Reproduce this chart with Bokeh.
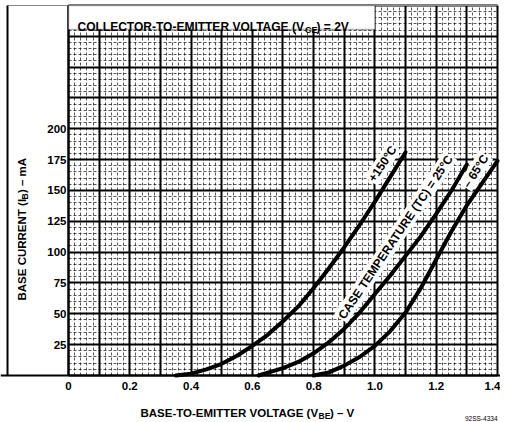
import math
import numpy as np
from bokeh.plotting import figure
from bokeh.models import Range1d, FixedTicker, BoxAnnotation, Label, LinearAxis
from bokeh.embed import file_html
from bokeh.resources import INLINE

# ---------------- data ----------------
vbe_150 = [0.35, 0.40, 0.45, 0.50, 0.55, 0.60, 0.65, 0.70, 0.75, 0.80, 0.85, 0.90, 0.95, 1.00, 1.05, 1.10]
ib_150 = [0, 1.5, 5, 9.5, 16, 24, 33, 44, 56, 71, 87, 104, 122, 141, 161, 181]

vbe_25 = [0.62, 0.70, 0.75, 0.80, 0.85, 0.90, 0.95, 1.00, 1.05, 1.10, 1.15, 1.20, 1.25, 1.30]
ib_25 = [0, 6, 11, 18, 27, 38, 51, 66, 81, 97, 113, 131, 150, 171]

vbe_m65 = [0.80, 0.85, 0.90, 0.95, 1.00, 1.05, 1.10, 1.15, 1.20, 1.25, 1.30, 1.35, 1.40]
ib_m65 = [0, 2.5, 8, 15, 24, 36, 51, 71, 94, 117, 138, 156, 174]

curve_labels = ["+150\u00b0C", "CASE TEMPERATURE (TC) = 25\u00b0C", "\u2013 65\u00b0C"]

x_ticks = [0, 0.2, 0.4, 0.6, 0.8, 1.0, 1.2, 1.4]
x_tick_labels = ["0", "0.2", "0.4", "0.6", "0.8", "1.0", "1.2", "1.4"]
y_ticks = [25, 50, 75, 100, 125, 150, 175, 200]
y_tick_labels = ["25", "50", "75", "100", "125", "150", "175", "200"]

title_parts = ["COLLECTOR-TO-EMITTER VOLTAGE (V", "CE", ") = 2V"]
xlabel_parts = ["BASE-TO-EMITTER VOLTAGE (V", "BE", ") \u2013 V"]
ylabel_parts = ["BASE CURRENT (I", "B", ") \u2013 mA"]
credit = "92SS-4334"

x_min, x_max = 0, 1.4
y_min, y_max = 0, 300

# ---------------- figure ----------------
FONT = "Liberation Sans"

p = figure(width=500, height=422,
           x_range=Range1d(-0.2219, 1.4098), y_range=Range1d(-38.11, 304.05),
           output_backend="svg", toolbar_location=None,
           min_border_left=0, min_border_right=0, min_border_top=0, min_border_bottom=0)
p.background_fill_color = "white"
p.border_fill_color = "white"
p.outline_line_color = None

# grid (graph paper), limited to the data area
p.xgrid.ticker = FixedTicker(ticks=np.round(np.arange(0, 1.401, 0.1), 3).tolist(),
                             minor_ticks=np.round(np.arange(0, 1.401, 0.02), 3).tolist())
p.ygrid.ticker = FixedTicker(ticks=np.arange(0, 301, 25).tolist(),
                             minor_ticks=np.arange(0, 301, 5).tolist())
p.xgrid.bounds = (x_min, x_max)
p.xgrid.cross_bounds = (y_min, y_max)
p.ygrid.bounds = (y_min, y_max)
p.ygrid.cross_bounds = (x_min, x_max)
for g in (p.xgrid, p.ygrid):
    g.grid_line_color = "black"
    g.grid_line_width = 2
    g.grid_line_alpha = 1
    g.minor_grid_line_color = "black"
    g.minor_grid_line_width = 1
    g.minor_grid_line_alpha = 0.65
    g.minor_grid_line_dash = "3 2"

def style_axis(ax):
    ax.axis_line_color = "black"
    ax.axis_line_width = 2
    ax.major_tick_in = 0
    ax.major_tick_out = 0
    ax.minor_tick_in = 0
    ax.minor_tick_out = 0
    ax.major_label_text_font = FONT
    ax.major_label_text_font_style = "bold"
    ax.major_label_text_font_size = "11.5px"
    ax.major_label_text_color = "black"

# x axis at I = 0
xa = p.xaxis[0]
style_axis(xa)
xa.fixed_location = 0
xa.ticker = FixedTicker(ticks=x_ticks)
xa.major_label_overrides = dict(zip(x_ticks, x_tick_labels))
xa.major_label_standoff = 7

# y axis at V = 0
ya = p.yaxis[0]
style_axis(ya)
ya.fixed_location = 0
ya.bounds = (y_min, y_max)
ya.ticker = FixedTicker(ticks=y_ticks)
ya.major_label_overrides = dict(zip(y_ticks, y_tick_labels))
ya.major_label_standoff = 2

# outer frame lines (left and top of the chart box)
left_rule = LinearAxis(fixed_location=-0.199, bounds=(y_min, y_max),
                       major_label_text_font_size="0px", axis_line_width=1.5)
style_axis(left_rule)
left_rule.major_label_text_alpha = 0
p.add_layout(left_rule, "left")
top_rule = LinearAxis(fixed_location=y_max, bounds=(-0.199, x_max),
                      major_label_text_font_size="0px")
style_axis(top_rule)
top_rule.axis_line_width = 1
top_rule.axis_line_color = "#888888"
top_rule.major_label_text_alpha = 0
p.add_layout(top_rule, "above")

# curves
for xs, ys in ((vbe_150, ib_150), (vbe_25, ib_25), (vbe_m65, ib_m65)):
    p.line(xs, ys, line_color="black", line_width=4, line_join="round", line_cap="round")

# curve labels
def curve_label(x, y, text, ang_deg, dx=0, dy=0):
    a = math.radians(ang_deg)
    p.add_layout(Label(x=x, y=y, text=text, angle=a,
                       x_offset=-3 * math.sin(a) + dx, y_offset=3 * math.cos(a) + dy,
                       text_align="right", text_baseline="bottom",
                       text_font=FONT, text_font_style="bold", text_font_size="12px",
                       text_color="black", background_fill_color="white",
                       background_fill_alpha=1, padding=1))

curve_label(vbe_150[-1], ib_150[-1], curve_labels[0], 56, dx=-2)
curve_label(vbe_25[-1], ib_25[-1], curve_labels[1], 56, dx=-7, dy=3)
curve_label(vbe_m65[-1], ib_m65[-1], curve_labels[2], 57, dx=-2)

# title box
p.add_layout(BoxAnnotation(left=0, right=1.0, bottom=280.5, top=y_max, fill_color="white",
                           fill_alpha=1, line_color="black", line_width=1.5))

def txt(x, y, text, size, xo, yo, angle=0, align="left", baseline="alphabetic"):
    p.add_layout(Label(x=x, y=y, text=text, x_offset=xo, y_offset=yo, angle=angle,
                       text_align=align, text_baseline=baseline,
                       text_font=FONT, text_font_style="bold", text_font_size=size,
                       text_color="black"))

# title: COLLECTOR-TO-EMITTER VOLTAGE (VCE) = 2V
txt(0, y_max, title_parts[0], "12px", 9, -22)
txt(0, y_max, title_parts[1], "9px", 236.5, -25)
txt(0, y_max, title_parts[2], "12px", 248, -22)

# x axis title
txt(0, 0, xlabel_parts[0], "11.5px", 72, -38)
txt(0, 0, xlabel_parts[1], "8.5px", 250, -41)
txt(0, 0, xlabel_parts[2], "11.5px", 261.5, -38)

# y axis title (rotated)
r = math.pi / 2
txt(0, 0, ylabel_parts[0], "11.5px", -46, 75, angle=r, baseline="middle")
txt(0, 0, ylabel_parts[1], "8.5px", -43, 176, angle=r, baseline="middle")
txt(0, 0, ylabel_parts[2], "11.5px", -46, 182.5, angle=r, baseline="middle")

# credit
p.add_layout(Label(x=x_max, y=0, text=credit, x_offset=0, y_offset=-43, text_align="right",
                   text_baseline="middle", text_font=FONT, text_font_size="6.5px",
                   text_color="black"))

open("out.html", "w").write(file_html(p, INLINE))
